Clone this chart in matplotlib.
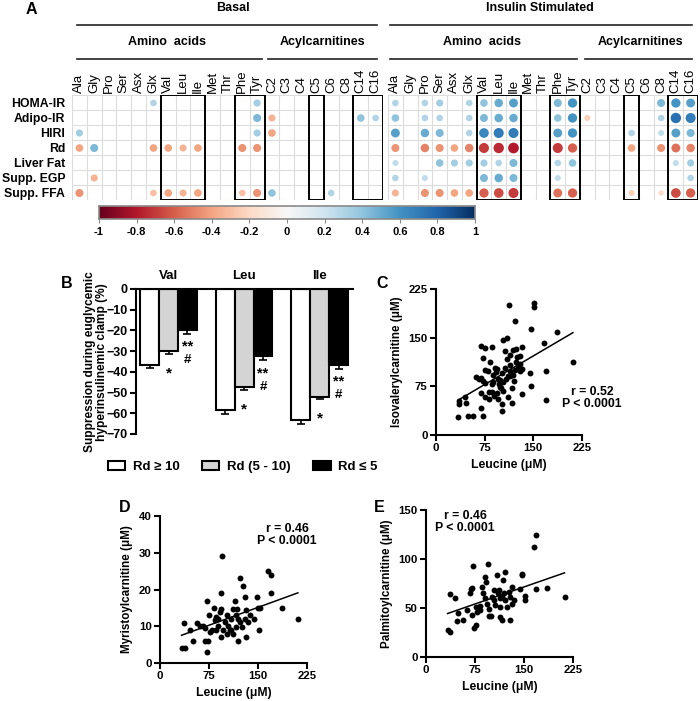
import numpy as np
import matplotlib
matplotlib.use("Agg")
import matplotlib.pyplot as plt
from matplotlib.patches import Rectangle, Patch
from matplotlib.lines import Line2D

plt.rcParams['font.family'] = ['Liberation Sans', 'DejaVu Sans']

# ---------------- data ----------------
metabolites = ['Ala', 'Gly', 'Pro', 'Ser', 'Asx', 'Glx', 'Val', 'Leu', 'Ile', 'Met', 'Thr', 'Phe', 'Tyr',
               'C2', 'C3', 'C4', 'C5', 'C6', 'C8', 'C14', 'C16']
clinical = ['HOMA-IR', 'Adipo-IR', 'HIRI', 'Rd', 'Liver Fat', 'Supp. EGP', 'Supp. FFA']
boxed_cols = [(6, 8), (11, 12), (16, 16), (19, 20)]

# correlation coefficients (0 = not significant, not drawn)
basal_r = [
    [0, 0, 0, 0, 0, .30, 0, 0, 0, 0, 0, 0, .35, 0, 0, 0, 0, 0, 0, 0, 0],
    [0, 0, 0, 0, 0, 0, 0, 0, 0, 0, 0, 0, .45, -.35, 0, 0, 0, 0, 0, .40, .30],
    [.35, 0, 0, 0, 0, 0, 0, 0, 0, 0, 0, 0, .35, -.40, 0, 0, 0, 0, 0, 0, 0],
    [-.40, .45, 0, 0, 0, -.40, -.40, -.35, -.40, 0, 0, -.45, -.45, 0, 0, 0, 0, 0, 0, 0, 0],
    [0, 0, 0, 0, 0, 0, 0, 0, 0, 0, 0, 0, 0, 0, 0, 0, 0, 0, 0, 0, 0],
    [0, -.35, 0, 0, 0, 0, 0, 0, 0, 0, 0, 0, 0, 0, 0, 0, 0, 0, 0, 0, 0],
    [-.45, 0, 0, 0, 0, -.30, -.40, -.35, -.40, 0, 0, -.30, -.45, .40, 0, 0, 0, .30, 0, 0, 0],
]
insulin_r = [
    [.30, 0, .30, .35, 0, .30, .40, .50, .55, 0, 0, .45, .60, 0, 0, 0, 0, 0, .45, .60, .55],
    [.40, 0, .30, .30, 0, .30, .45, .50, .50, 0, 0, .40, .60, -.25, 0, 0, 0, 0, .30, .75, .70],
    [.55, 0, .50, .45, 0, .30, .65, .70, .70, 0, 0, .55, .60, 0, 0, 0, .30, 0, .25, .55, .45],
    [-.45, 0, -.50, -.45, -.40, -.50, -.70, -.75, -.80, 0, 0, -.70, -.60, 0, 0, 0, -.40, 0, -.45, -.55, -.50],
    [.25, 0, 0, .40, .35, .35, .35, .30, .45, 0, 0, .30, .40, 0, 0, 0, 0, 0, 0, .25, .35],
    [.30, 0, .25, 0, 0, 0, .45, .50, .45, 0, 0, .25, 0, 0, 0, 0, 0, 0, 0, 0, .30],
    [-.35, 0, -.45, -.45, -.40, -.40, -.60, -.65, -.70, 0, 0, -.55, -.60, 0, 0, 0, -.25, 0, -.20, -.65, -.60],
]

# panel B: suppression (%) by Rd group
aa_groups = ['Val', 'Leu', 'Ile']
rd_labels = ['Rd \u2265 10', 'Rd (5 - 10)', 'Rd \u2264 5']
supp_high = [-36.5, -58.5, -63.0]
sem_high = [1.7, 2.0, 2.0]
supp_mid = [-30.0, -47.5, -52.0]
sem_mid = [1.2, 1.2, 1.2]
supp_low = [-20.0, -32.5, -36.5]
sem_low = [1.7, 2.0, 2.0]

# panel C
leu_c = [34, 36, 36, 46, 45, 49, 57, 62, 67, 69,
         75, 86, 72, 70, 73, 76, 76, 83, 70, 70,
         72, 76, 81, 86, 88, 91, 94, 95, 98, 99,
         101, 103, 104, 94, 90, 96, 101, 101, 104, 110,
         106, 113, 122, 109, 114, 119, 124, 133, 129, 129,
         123, 114, 114, 118, 120, 117, 117, 111, 132, 129,
         133, 145, 147, 147, 151, 151, 166, 186, 169, 169,
         211, 106, 111, 88, 86, 81, 114, 92, 97, 125,
         127, 108, 80, 100, 122]
isoval_c = [27, 53, 48, 50, 59, 30, 30, 89, 86, 137,
            134, 135, 119, 88, 83, 80, 100, 113, 64, 41,
            30, 59, 67, 67, 92, 103, 101, 87, 84, 74,
            95, 82, 68, 64, 60, 55, 48, 37, 146, 149,
            129, 200, 176, 117, 123, 131, 132, 136, 121, 110,
            113, 108, 98, 92, 83, 72, 49, 58, 101, 99,
            63, 95, 76, 164, 204, 197, 142, 158, 99, 54,
            113, 103, 91, 82, 79, 55, 91, 97, 78, 120,
            104, 86, 98, 72, 100]

# panel D
leu_d = [33, 38, 37, 46, 50, 56, 61, 66, 69, 72,
         74, 72, 69, 75, 76, 79, 82, 84, 86, 89,
         92, 93, 95, 94, 94, 97, 99, 102, 102, 104,
         107, 109, 111, 112, 115, 116, 117, 118, 120, 122,
         122, 125, 127, 130, 131, 132, 134, 137, 144, 148,
         150, 151, 153, 166, 170, 170, 186, 211, 86, 89,
         109, 120, 130]
myris_d = [4.1, 4.1, 11, 9, 6, 11, 10.2, 10.2, 9.5, 17,
           6, 3, 6, 13, 8.4, 8.9, 15, 11.6, 12.5, 12,
           13.9, 19, 29, 14.8, 7, 8.9, 11.2, 13, 8, 10,
           9, 12, 14.8, 8, 17, 13, 9.8, 14.8, 6, 23,
           11.2, 9.8, 21, 18, 7, 14.3, 11.2, 13, 12, 18,
           15, 9, 15, 25, 24, 19, 15, 12, 8.9, 10.2,
           8.9, 12, 12]

# panel E
leu_e = [33, 36, 36, 45, 49, 47, 57, 63, 67, 69,
         70, 72, 73, 76, 70, 76, 78, 82, 83, 86,
         90, 92, 95, 91, 93, 96, 96, 100, 101, 104,
         106, 109, 110, 113, 114, 114, 116, 118, 121, 120,
         121, 124, 127, 129, 132, 132, 129, 134, 144, 147,
         147, 151, 151, 165, 169, 169, 185, 212, 88, 104,
         111, 116]
palm_e = [28, 26, 64, 60, 45, 36.5, 38, 48, 65, 69,
          70.6, 93, 30, 33, 43, 51, 46, 48, 52, 71.6,
          81.8, 76.7, 95, 59.7, 54.5, 49.4, 41.6, 41.6, 61, 58,
          52.8, 84, 64.8, 59.7, 51, 41, 37.5, 79, 87, 64.8,
          58, 51, 66.5, 61, 71, 54.5, 37.5, 58, 69, 83.5,
          85, 62, 58, 112, 124, 69, 70.6, 61, 64.8, 68,
          68, 61]

# ---------------- layout helpers (pixel boxes) ----------------
W, H = 700, 701
fig = plt.figure(figsize=(7, 7.01), dpi=100)


def box(x0, y0, x1, y1):
    return [x0 / W, 1 - y1 / H, (x1 - x0) / W, (y1 - y0) / H]


def ftext(x, y, s, **kw):
    fig.text(x / W, 1 - y / H, s, **kw)


def hline(x0, x1, y):
    fig.add_artist(Line2D([x0 / W, x1 / W], [1 - y / H] * 2, color='#222222', lw=1.2))


# ---------------- panel A ----------------
def corr_grid(ax, vals, show_rows):
    vals = np.array(vals)
    nr, nc = vals.shape
    ax.set_xlim(-0.5, nc - 0.5)
    ax.set_ylim(nr - 0.5, -0.5)
    for i in range(nc + 1):
        ax.plot([i - 0.5] * 2, [-0.5, nr - 0.5], color='#dcdcdc', lw=0.8, zorder=1)
    for j in range(nr + 1):
        ax.plot([-0.5, nc - 0.5], [j - 0.5] * 2, color='#dcdcdc', lw=0.8, zorder=1)
    rr, cc = np.nonzero(vals)
    r = vals[rr, cc]
    diam = 15 * 0.8 * np.sqrt(np.abs(r)) * 0.72
    ax.scatter(cc, rr, s=diam ** 2, c=r, cmap='RdBu', vmin=-1, vmax=1,
               linewidths=0, zorder=3)
    for c0, c1 in boxed_cols:
        ax.add_patch(Rectangle((c0 - 0.5, -0.5), c1 - c0 + 1, nr, fill=False,
                               ec='black', lw=1.4, zorder=4))
    for s in ax.spines.values():
        s.set_visible(False)
    ax.xaxis.tick_top()
    ax.set_xticks(range(nc))
    ax.set_xticklabels(metabolites, rotation=90, fontsize=9.5)
    ax.tick_params(axis='x', length=0, pad=2)
    if show_rows:
        ax.set_yticks(range(nr))
        ax.set_yticklabels(clinical, fontsize=8.8, fontweight='bold')
        ax.tick_params(axis='y', length=0, pad=5)
    else:
        ax.set_yticks([])


axA1 = fig.add_axes(box(72, 95.5, 383, 200.5))
corr_grid(axA1, basal_r, True)
axA2 = fig.add_axes(box(388, 95.5, 698, 200.5))
corr_grid(axA2, insulin_r, False)

hdr = dict(ha='center', va='center', fontsize=9, fontweight='bold')
ftext(233, 8, 'Basal', **hdr)
ftext(540, 8, 'Insulin Stimulated', **hdr)
hline(77, 377, 25)
hline(390, 692, 25)
ftext(167, 42, 'Amino  acids', **hdr)
ftext(322, 42, 'Acylcarnitines', **hdr)
ftext(482, 42, 'Amino  acids', **hdr)
ftext(640, 42, 'Acylcarnitines', **hdr)
hline(77, 262, 59)
hline(268, 377, 59)
hline(390, 577, 59)
hline(585, 692, 59)

cax = fig.add_axes(box(99, 206, 475, 219))
cax.imshow(np.linspace(-1, 1, 256)[None, :], cmap='RdBu', aspect='auto', extent=[-1, 1, 0, 1])
cb_ticks = np.round(np.arange(-1, 1.01, 0.2), 1) + 0.0
cax.set_xticks(cb_ticks)
cax.set_xticklabels([f'{v:g}' for v in cb_ticks], fontsize=8, fontweight='bold')
cax.set_yticks([])
cax.tick_params(axis='x', length=3, color='#888888', pad=3)
for s in cax.spines.values():
    s.set_edgecolor('#8a8a8a')
    s.set_linewidth(1.2)

# ---------------- panel B ----------------
axB = fig.add_axes(box(136, 289, 353, 434))
xg = np.arange(len(aa_groups))
series = [(supp_high, sem_high, 'white'), (supp_mid, sem_mid, '#d4d4d4'), (supp_low, sem_low, 'black')]
for k, (vals, errs, col) in enumerate(series):
    pos = xg + (k - 1) * 0.25
    axB.bar(pos, vals, 0.25, color=col, edgecolor='black', lw=1.5, zorder=2)
    axB.errorbar(pos, vals, yerr=[errs, np.zeros(len(errs))], fmt='none', ecolor='black',
                 elinewidth=1.2, capsize=3, capthick=1.2, zorder=3)
axB.set_xlim(-0.43, 2.44)
axB.set_ylim(-70, 0)
axB.set_yticks(range(-70, 1, 10))
axB.set_xticks([])
for lab in axB.get_yticklabels():
    lab.set_fontweight('bold')
    lab.set_fontsize(9)
axB.tick_params(axis='y', width=1.5, length=4, pad=2)
axB.spines['bottom'].set_visible(False)
axB.spines['right'].set_visible(False)
axB.spines['top'].set_linewidth(1.5)
axB.spines['left'].set_linewidth(1.5)
for i, g in enumerate(aa_groups):
    axB.annotate(g, xy=(xg[i], 0), xytext=(0, 9), textcoords='offset points',
                 ha='center', va='center', fontsize=9.5, fontweight='bold')
    mid_end = supp_mid[i] - sem_mid[i]
    axB.annotate('*', xy=(xg[i], mid_end), xytext=(0, -14), textcoords='offset points',
                 ha='center', va='center', fontsize=11, fontweight='bold')
    low_end = supp_low[i] - sem_low[i]
    axB.annotate('**', xy=(xg[i] + 0.25, low_end), xytext=(0, -4), textcoords='offset points',
                 ha='center', va='top', fontsize=10.5, fontweight='bold')
    axB.annotate('#', xy=(xg[i] + 0.25, low_end), xytext=(0, -14.5), textcoords='offset points',
                 ha='center', va='top', fontsize=9.5, fontweight='bold')
ftext(96, 362, 'Suppression during euglycemic\nhyperinsulinemic clamp (%)', rotation=90,
      ha='center', va='center', fontsize=8.6, fontweight='bold', linespacing=1.0)
handles = [Patch(facecolor=c, edgecolor='black', lw=1.5) for _, _, c in series]
fig.legend(handles, rd_labels, loc='center left', bbox_to_anchor=(108 / W, 1 - 467 / H),
           ncol=3, frameon=False, borderpad=0, borderaxespad=0, handlelength=1.3,
           handleheight=0.75, handletextpad=0.6, columnspacing=1.7,
           prop={'weight': 'bold', 'size': 9.5})


# ---------------- panels C, D, E ----------------
def scatter_panel(pbox, xs, ys, ymax, yticks, ylabel):
    ax = fig.add_axes(box(*pbox))
    xs = np.array(xs, float)
    ys = np.array(ys, float)
    ax.scatter(xs, ys, s=18, c='black', linewidths=0, zorder=3, clip_on=False)
    k, b = np.polyfit(xs, ys, 1)
    xx = np.array([xs.min(), xs.max()])
    ax.plot(xx, k * xx + b, color='black', lw=1.1, zorder=2)
    ax.set_xlim(0, 225)
    ax.set_ylim(0, ymax)
    ax.set_xticks([0, 75, 150, 225])
    ax.set_yticks(yticks)
    for lab in ax.get_xticklabels() + ax.get_yticklabels():
        lab.set_fontweight('bold')
        lab.set_fontsize(8.2)
    ax.tick_params(width=1.5, length=4, pad=2)
    ax.spines['top'].set_visible(False)
    ax.spines['right'].set_visible(False)
    ax.spines['left'].set_linewidth(1.5)
    ax.spines['bottom'].set_linewidth(1.5)
    ax.set_xlabel('Leucine (\u03bcM)', fontsize=8.8, fontweight='bold', labelpad=4)
    ax.set_ylabel(ylabel, fontsize=8.4, fontweight='bold', labelpad=4)
    return ax


scatter_panel((436, 289, 582, 435), leu_c, isoval_c, 225, [0, 75, 150, 225],
              'Isovalerylcarnitine (\u03bcM)')
scatter_panel((160, 516, 307, 663), leu_d, myris_d, 40, [0, 10, 20, 30, 40],
              'Myristoylcarnitine (\u03bcM)')
scatter_panel((426, 510, 573, 657), leu_e, palm_e, 150, [0, 50, 100, 150],
              'Palmitoylcarnitine (\u03bcM)')

stat = dict(ha='center', va='center', fontsize=8.8, fontweight='bold', linespacing=1.05)
ftext(592, 398, 'r = 0.52\nP < 0.0001', **stat)
ftext(287, 535, 'r = 0.46\nP < 0.0001', **stat)
ftext(465, 522, 'r = 0.46\nP < 0.0001', **stat)

letter = dict(ha='center', va='center', fontsize=11.5, fontweight='bold')
ftext(31, 10, 'A', **letter)
ftext(67, 283, 'B', **letter)
ftext(382, 283, 'C', **letter)
ftext(125, 508, 'D', **letter)
ftext(379, 507, 'E', **letter)

fig.savefig('out.png', dpi=100)
